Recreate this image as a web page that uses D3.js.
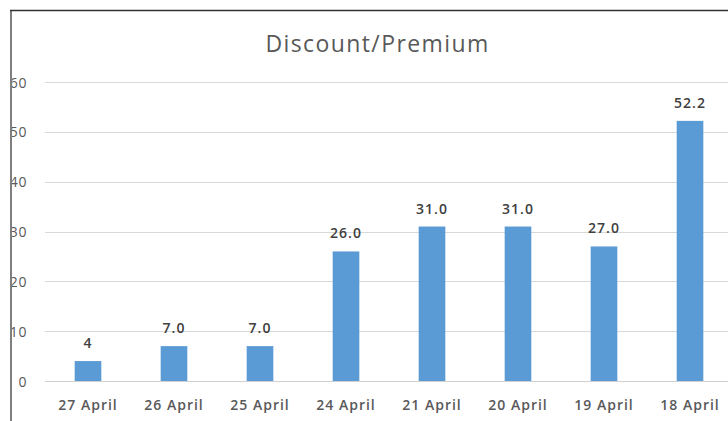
<!DOCTYPE html>
<html>
<head>
<meta charset="utf-8">
<script src="https://cdn.jsdelivr.net/npm/d3@7"></script>
<style>
  html, body { margin: 0; padding: 0; background: #fff; }
  svg { display: block; }
</style>
</head>
<body>
<script>
const categories = ["27 April", "26 April", "25 April", "24 April", "21 April", "20 April", "19 April", "18 April"];
const values = [4, 7, 7, 26, 31, 31, 27, 52.2];
const valueLabels = ["4", "7.0", "7.0", "26.0", "31.0", "31.0", "27.0", "52.2"];
const yTicks = [0, 10, 20, 30, 40, 50, 60];
const title = "Discount/Premium";

const W = 728, H = 421;
const svg = d3.select("body").append("svg").attr("width", W).attr("height", H);
svg.append("rect").attr("width", W).attr("height", H).attr("fill", "#fff");

const x = d3.scaleBand().domain(categories).range([45, 733]).paddingInner(0.69).paddingOuter(0.345);
const y = d3.scaleLinear().domain([0, 60]).range([381, 82]);

const font = "'Open Sans', 'Noto Sans', sans-serif";

// gridlines
svg.append("g").selectAll("line").data(yTicks).join("line")
  .attr("x1", 45).attr("x2", W)
  .attr("y1", d => Math.round(y(d)) + 0.5).attr("y2", d => Math.round(y(d)) + 0.5)
  .attr("stroke", d => d === 0 ? "#d0d0d0" : "#d9d9d9").attr("stroke-width", 1);

// y labels
const yAxis = d3.axisLeft(y).tickValues(yTicks).tickSize(0).tickPadding(0);
const gy = svg.append("g").attr("transform", "translate(27,0)").call(yAxis);
gy.select(".domain").remove();
gy.selectAll("text").attr("font-family", font).attr("font-size", 14).attr("fill", "#595959")
  .attr("letter-spacing", 0.6).attr("dy", "0.36em");

// bars
svg.append("g").selectAll("rect").data(values).join("rect")
  .attr("x", (d, i) => x(categories[i]))
  .attr("width", x.bandwidth())
  .attr("y", d => y(d))
  .attr("height", d => y(0) - y(d))
  .attr("fill", "#5b9bd5");

// data labels
svg.append("g").selectAll("text").data(values).join("text")
  .attr("x", (d, i) => x(categories[i]) + x.bandwidth() / 2)
  .attr("y", d => y(d) - 13)
  .attr("text-anchor", "middle")
  .attr("font-family", font).attr("font-size", 14).attr("font-weight", 600)
  .attr("letter-spacing", 1)
  .attr("fill", "#404040")
  .text((d, i) => valueLabels[i]);

// x labels
const xAxis = d3.axisBottom(x).tickSize(0).tickPadding(0);
const gx = svg.append("g").attr("transform", "translate(0,381)").call(xAxis);
gx.select(".domain").remove();
gx.selectAll("text").attr("font-family", font).attr("font-size", 14).attr("font-weight", 600)
  .attr("letter-spacing", 1)
  .attr("fill", "#595959").attr("dy", null).attr("y", 29);

// title
svg.append("text").attr("x", 377.5).attr("y", 52).attr("text-anchor", "middle")
  .attr("font-family", font).attr("font-size", 23).attr("letter-spacing", 1.4)
  .attr("fill", "#595959").text(title);

// border
svg.append("line").attr("x1", 11).attr("x2", 11).attr("y1", 10).attr("y2", H)
  .attr("stroke", "#7f7f7f").attr("stroke-width", 2);
svg.append("line").attr("x1", 10).attr("x2", W).attr("y1", 10.5).attr("y2", 10.5)
  .attr("stroke", "#333").attr("stroke-width", 1.5);
</script>
</body>
</html>
